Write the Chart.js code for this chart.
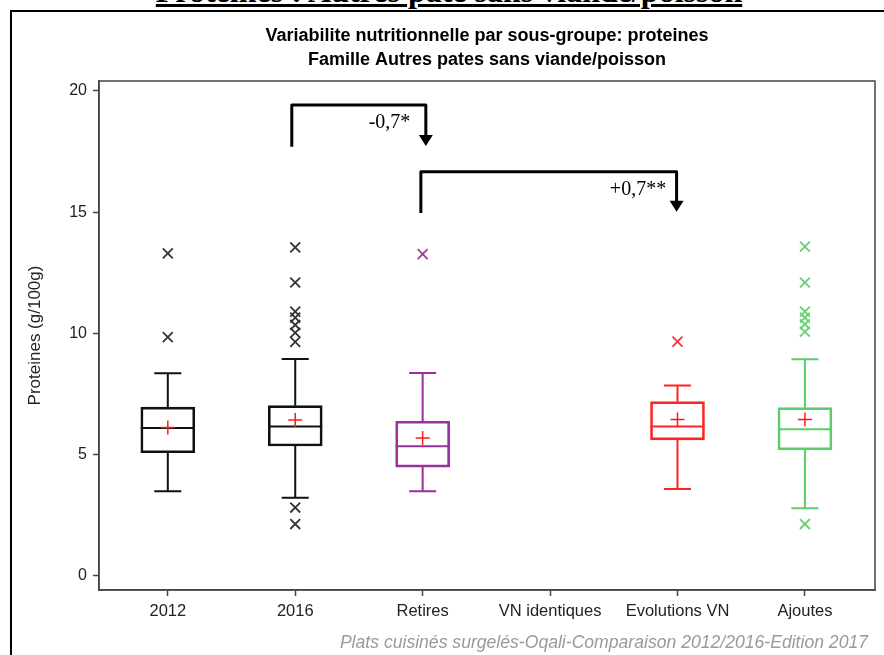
<!DOCTYPE html>
<html lang="fr">
<head>
<meta charset="UTF-8">
<title>Proteines : Autres pates sans viande/poisson</title>
<script src="https://cdn.jsdelivr.net/npm/chart.js"></script>
<style>
  body { margin: 0; background: #fff; }
  #page { position: relative; width: 884px; height: 655px; overflow: hidden; }
  #frame { position: absolute; left: 10px; top: 10px; width: 900px; height: 700px; border: 2px solid #000; box-sizing: border-box; }
  #heading { position: absolute; left: 0; width: 898px; top: -27px; line-height: 36px; text-align: center;
             font: bold 32px "Liberation Serif", serif; text-decoration: underline; white-space: nowrap; }
  canvas { position: absolute; left: 0; top: 0; }
</style>
</head>
<body>
<div id="page">
  <div id="heading">Proteines : Autres pate sans viande/poisson</div>
  <div id="frame"></div>
  <canvas id="boxChart" width="884" height="655"></canvas>
</div>

<script>
// categories and box statistics (g/100g)
const categories = ['2012', '2016', 'Retires', 'VN identiques', 'Evolutions VN', 'Ajoutes'];
const q1         = [5.08, 5.36, 4.49, null, 5.61, 5.20];
const median     = [6.10, 6.16, 5.35, null, 6.16, 6.05];
const q3         = [6.96, 7.02, 6.38, null, 7.19, 6.94];
const whiskerLow = [3.49, 3.22, 3.49, null, 3.59, 2.79];
const whiskerHigh= [8.36, 8.95, 8.37, null, 7.85, 8.94];
const means      = [6.12, 6.43, 5.69, null, 6.45, 6.45];
const outliers = [
  [13.3, 9.85],
  [13.55, 12.1, 10.9, 10.65, 10.35, 10.03, 9.65, 2.82, 2.14],
  [13.27],
  [],
  [9.66],
  [13.58, 12.1, 10.9, 10.65, 10.38, 10.07, 2.14]
];
const yTicks = [0, 5, 10, 15, 20];

// significance brackets: [x from, x to, y base left, y top, y arrow tip, label, label x, label y]
const brackets = [
  [0.973, 2.025, 17.7, 19.42, 17.73, '-0,7*', 1.74, 18.68],
  [1.986, 3.993, 14.97, 16.67, 15.02, '+0,7**', 3.69, 15.92]
];

const boxColors = ['#111', '#111', '#9b2f9b', '#111', '#ff2424', '#5dcc6b'];
const outColors = ['#333', '#333', '#a23aa2', '#333', '#ff3030', '#66d070'];
const font = '"Liberation Sans", Arial, sans-serif';

const boxPlugin = {
  id: 'boxParts',
  beforeDatasetsDraw(chart) {
    const { ctx, scales: { x, y } } = chart;
    ctx.save();
    ctx.lineWidth = 2;
    categories.forEach((c, i) => {
      if (median[i] == null) return;
      const cx = x.getPixelForValue(i);
      const py = v => y.getPixelForValue(v);
      ctx.strokeStyle = boxColors[i];
      ctx.beginPath();
      // median
      ctx.moveTo(cx - 27, py(median[i])); ctx.lineTo(cx + 27, py(median[i]));
      // whiskers
      ctx.moveTo(cx, py(q3[i])); ctx.lineTo(cx, py(whiskerHigh[i]));
      ctx.moveTo(cx, py(q1[i])); ctx.lineTo(cx, py(whiskerLow[i]));
      // caps
      ctx.moveTo(cx - 13.5, py(whiskerHigh[i])); ctx.lineTo(cx + 13.5, py(whiskerHigh[i]));
      ctx.moveTo(cx - 13.5, py(whiskerLow[i])); ctx.lineTo(cx + 13.5, py(whiskerLow[i]));
      ctx.stroke();
    });
    ctx.restore();
  },
  afterDraw(chart) {
    const { ctx, chartArea: a, scales: { x, y } } = chart;
    ctx.save();
    // plot frame
    ctx.strokeStyle = '#444';
    ctx.lineWidth = 1.5;
    ctx.strokeRect(a.left, a.top, a.right - a.left, a.bottom - a.top);

    // titles
    ctx.fillStyle = '#000';
    ctx.textAlign = 'center';
    ctx.textBaseline = 'middle';
    ctx.font = 'bold 18px ' + font;
    const mid = (a.left + a.right) / 2;
    ctx.fillText('Variabilite nutritionnelle par sous-groupe: proteines', mid, 36);
    ctx.fillText('Famille Autres pates sans viande/poisson', mid, 60);

    // y axis title
    ctx.save();
    ctx.translate(35, (a.top + a.bottom) / 2);
    ctx.rotate(-Math.PI / 2);
    ctx.font = '17px ' + font;
    ctx.fillStyle = '#222';
    ctx.fillText('Proteines (g/100g)', 0, 0);
    ctx.restore();

    // caption
    ctx.font = 'italic 17.6px ' + font;
    ctx.fillStyle = '#9a9a9a';
    ctx.textAlign = 'right';
    ctx.fillText('Plats cuisinés surgelés-Oqali-Comparaison 2012/2016-Edition 2017', 868, 643);

    // brackets
    ctx.strokeStyle = '#000';
    ctx.fillStyle = '#000';
    ctx.lineWidth = 3;
    ctx.lineJoin = 'round';
    brackets.forEach(b => {
      const x0 = x.getPixelForValue(b[0]), x1 = x.getPixelForValue(b[1]);
      const yBase = y.getPixelForValue(b[2]), yTop = y.getPixelForValue(b[3]);
      const yTip = y.getPixelForValue(b[4]);
      ctx.beginPath();
      ctx.moveTo(x0, yBase);
      ctx.lineTo(x0, yTop);
      ctx.lineTo(x1, yTop);
      ctx.lineTo(x1, yTip - 10);
      ctx.stroke();
      ctx.beginPath();
      ctx.moveTo(x1 - 7, yTip - 11);
      ctx.lineTo(x1 + 7, yTip - 11);
      ctx.lineTo(x1, yTip);
      ctx.closePath();
      ctx.fill();
      ctx.font = '20px "Liberation Serif", "Times New Roman", serif';
      ctx.textAlign = 'center';
      ctx.textBaseline = 'middle';
      ctx.fillText(b[5], x.getPixelForValue(b[6]), y.getPixelForValue(b[7]));
    });
    ctx.restore();
  }
};

const boxData = [], meanData = [], outData = [], outPointColors = [];
categories.forEach((c, i) => {
  if (q1[i] != null) {
    boxData.push({ x: i, y: [q1[i], q3[i]] });
    meanData.push({ x: i, y: means[i] });
  }
  outliers[i].forEach(v => {
    outData.push({ x: i, y: v });
    outPointColors.push(outColors[i]);
  });
});

new Chart(document.getElementById('boxChart'), {
  type: 'bar',
  data: {
    datasets: [
      {
        type: 'scatter',
        label: 'Moyenne',
        data: meanData,
        pointStyle: 'cross',
        pointRadius: 7,
        borderColor: '#ff1a1a',
        borderWidth: 1.5,
        order: 0
      },
      {
        type: 'scatter',
        label: 'Extremes',
        data: outData,
        pointStyle: 'crossRot',
        pointRadius: 7,
        borderColor: outPointColors,
        borderWidth: 1.8,
        order: 1
      },
      {
        label: 'Boites',
        data: boxData,
        backgroundColor: 'rgba(0,0,0,0)',
        borderColor: boxColors.filter((c, i) => q1[i] != null),
        borderWidth: 2,
        borderSkipped: false,
        barThickness: 54,
        order: 2
      }
    ]
  },
  options: {
    responsive: false,
    animation: false,
    layout: { padding: { left: 0, top: 81, right: 9, bottom: 0 } },
    plugins: { legend: { display: false }, tooltip: { enabled: false } },
    scales: {
      x: {
        type: 'linear',
        min: -0.54,
        max: 5.55,
        offset: false,
        afterBuildTicks: s => { s.ticks = categories.map((c, i) => ({ value: i })); },
        afterFit: s => { s.height = 65; },
        ticks: {
          callback: v => categories[v],
          autoSkip: false,
          maxRotation: 0,
          padding: 6,
          color: '#222',
          font: { family: font, size: 16.5 }
        },
        grid: { offset: false, drawOnChartArea: false, tickLength: 6, tickColor: '#444', tickWidth: 1.5 },
        border: { color: '#444', width: 1.5 }
      },
      y: {
        min: -0.58,
        max: 20.41,
        afterBuildTicks: s => { s.ticks = yTicks.map(v => ({ value: v })); },
        afterFit: s => { s.width = 99; },
        ticks: {
          padding: 6,
          color: '#222',
          font: { family: font, size: 16 }
        },
        grid: { drawOnChartArea: false, tickLength: 6, tickColor: '#444', tickWidth: 1.5 },
        border: { color: '#444', width: 1.5 }
      }
    }
  },
  plugins: [boxPlugin]
});
</script>
</body>
</html>
